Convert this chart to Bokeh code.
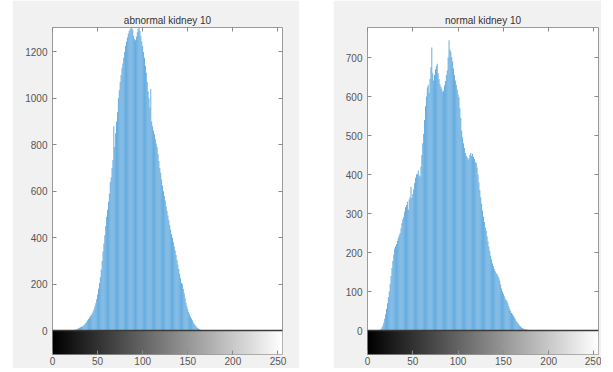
import numpy as np
from bokeh.plotting import figure
from bokeh.models import LinearAxis, FixedTicker, Span, LinearColorMapper, Range1d, Spacer
from bokeh.layouts import row
from bokeh.palettes import Greys256
from bokeh.embed import file_html
from bokeh.resources import INLINE

bins = list(range(256))
x_ticks = [0, 50, 100, 150, 200, 250]
abnormal_yticks = [0, 200, 400, 600, 800, 1000, 1200]
normal_yticks = [0, 100, 200, 300, 400, 500, 600, 700]

abnormal_counts = [
    0, 0, 0, 0, 0, 0, 0, 0, 0, 0, 0, 0, 0, 0, 0, 0,
    0, 0, 0, 0, 1, 1, 2, 2, 3, 4, 5, 6, 8, 10, 12, 14,
    16, 18, 21, 24, 28, 33, 38, 44, 50, 56, 62, 68, 74, 82, 92, 104,
    118, 135, 155, 180, 205, 230, 262, 300, 340, 375, 410, 450, 490, 520, 555, 590,
    640, 660, 700, 735, 880, 790, 850, 900, 940, 1000, 1035, 1070, 1100, 1130, 1150, 1175,
    1200, 1225, 1245, 1262, 1278, 1290, 1298, 1302, 1305, 1295, 1270, 1255, 1250, 1265, 1285, 1300,
    1305, 1290, 1268, 1245, 1225, 1200, 1175, 1140, 1110, 1070, 1030, 1000, 960, 1040, 900, 880,
    860, 845, 825, 805, 790, 760, 730, 700, 680, 650, 625, 600, 580, 560, 535, 515,
    495, 475, 455, 435, 415, 400, 380, 362, 345, 325, 305, 285, 265, 245, 225, 205,
    200, 180, 160, 140, 120, 105, 92, 80, 70, 60, 52, 44, 36, 29, 24, 19,
    14, 11, 8, 6, 4, 3, 2, 2, 1, 1, 0, 0, 0, 0, 0, 0,
    0, 0, 0, 0, 0, 0, 0, 0, 0, 0, 0, 0, 0, 0, 0, 0,
    0, 0, 0, 0, 0, 0, 0, 0, 0, 0, 0, 0, 0, 0, 0, 0,
    0, 0, 0, 0, 0, 0, 0, 0, 0, 0, 0, 0, 0, 0, 0, 0,
    0, 0, 0, 0, 0, 0, 0, 0, 0, 0, 0, 0, 0, 0, 0, 0,
    0, 0, 0, 0, 0, 0, 0, 0, 0, 0, 0, 0, 0, 0, 0, 0,
]

normal_counts = [
    0, 0, 0, 0, 0, 0, 0, 0, 0, 0, 0, 0, 0, 1, 2, 4,
    8, 13, 20, 30, 42, 55, 70, 85, 100, 120, 140, 160, 178, 195, 210, 216,
    222, 230, 238, 244, 250, 262, 275, 285, 292, 305, 316, 322, 330, 310, 336, 342,
    368, 340, 350, 362, 378, 392, 400, 402, 410, 398, 395, 420, 450, 480, 504, 540,
    575, 600, 624, 630, 610, 645, 675, 726, 660, 641, 655, 670, 678, 684, 660, 645,
    632, 625, 620, 612, 615, 628, 640, 655, 667, 700, 744, 720, 715, 701, 690, 672,
    655, 641, 630, 618, 605, 598, 570, 545, 513, 495, 480, 468, 455, 448, 444, 438,
    442, 450, 455, 448, 453, 445, 440, 432, 430, 418, 400, 380, 360, 342, 325, 308,
    292, 278, 264, 256, 242, 228, 215, 204, 192, 182, 172, 165, 158, 152, 147, 145,
    140, 135, 128, 118, 108, 100, 94, 88, 82, 78, 75, 70, 62, 56, 50, 45,
    42, 38, 34, 30, 25, 22, 19, 16, 13, 10, 8, 6, 5, 4, 3, 3,
    2, 2, 1, 1, 1, 0, 0, 0, 0, 0, 0, 0, 0, 0, 0, 0,
    0, 0, 0, 0, 0, 0, 0, 0, 0, 0, 0, 0, 0, 0, 0, 0,
    0, 0, 0, 0, 0, 0, 0, 0, 0, 0, 0, 0, 0, 0, 0, 0,
    0, 0, 0, 0, 0, 0, 0, 0, 0, 0, 0, 0, 0, 0, 0, 0,
    0, 0, 0, 0, 0, 0, 0, 0, 0, 0, 0, 0, 0, 0, 0, 0,
]

FONT = "Liberation Sans"


def style_axis(ax, ticks, show_labels=True):
    ax.ticker = FixedTicker(ticks=ticks)
    ax.major_tick_in = 4
    ax.major_tick_out = 0
    ax.minor_tick_line_color = None
    ax.axis_line_color = None
    ax.major_tick_line_color = "#8a8a8a"
    ax.major_label_text_font = FONT
    ax.major_label_text_font_size = "10px"
    ax.major_label_text_color = "#555555"
    ax.major_label_standoff = 5
    if not show_labels:
        ax.major_label_overrides = {t: "" for t in ticks}
        ax.major_label_standoff = 0


def panel(title, counts, ymax, ymin, yticks, width, bl, br):
    p = figure(width=width, height=368,
               x_range=Range1d(0, 255), y_range=Range1d(ymin, ymax),
               output_backend="svg", toolbar_location=None,
               min_border_left=bl, min_border_right=br,
               min_border_top=27, min_border_bottom=14,
               border_fill_color="#f1f1f1", background_fill_color="white",
               outline_line_color="#9a9a9a")
    p.grid.visible = False
    p.title.text = title
    p.title.align = "center"
    p.title.text_font = FONT
    p.title.text_font_size = "10px"
    p.title.text_font_style = "normal"
    p.title.text_color = "#333333"
    p.title.standoff = 3

    mapper = LinearColorMapper(palette=Greys256, low=0, high=255)
    p.image(image=[np.arange(256).reshape(1, 256)], x=0, y=ymin, dw=255, dh=-ymin,
            color_mapper=mapper)
    p.vbar(x=bins, top=counts, width=1.0, fill_color="#5ba6dd", line_color=None)
    p.add_layout(Span(location=0, dimension="width", line_color="#3a3a3a", line_width=1.5))

    style_axis(p.xaxis[0], x_ticks, True)
    p.xaxis[0].major_label_standoff = 2
    style_axis(p.yaxis[0], yticks, True)

    right_ax = LinearAxis()
    style_axis(right_ax, yticks, False)
    p.add_layout(right_ax, "right")
    top_ax = LinearAxis()
    style_axis(top_ax, x_ticks, False)
    p.add_layout(top_ax, "above")
    return p


left = panel("abnormal kidney 10", abnormal_counts, 1305, -103, abnormal_yticks, 287, 40, 17)
right = panel("normal kidney 10", normal_counts, 777, -61.5, normal_yticks, 268, 34, 3)

layout = row(Spacer(width=12, height=368), left, Spacer(width=34, height=368), right)

open("out.html", "w").write(file_html(layout, INLINE))
